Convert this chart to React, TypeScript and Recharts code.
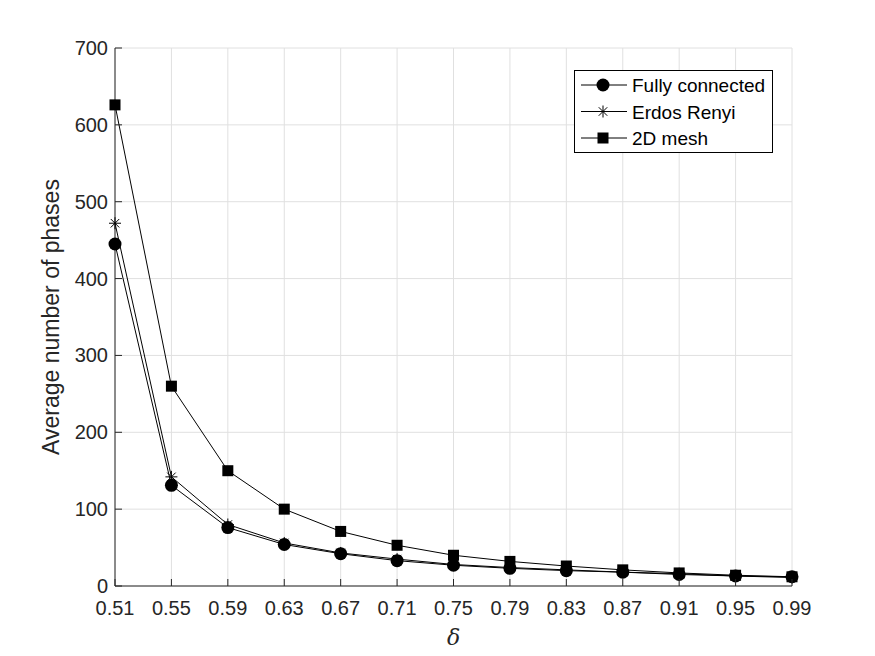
import React from 'react';
import { LineChart, Line, XAxis, YAxis, CartesianGrid } from 'recharts';

const deltas = [0.51, 0.55, 0.59, 0.63, 0.67, 0.71, 0.75, 0.79, 0.83, 0.87, 0.91, 0.95, 0.99];
const fullyConnected = [445, 131, 76, 54, 42, 33, 27, 23, 20, 18, 15, 13, 12];
const erdosRenyi = [472, 142, 80, 56, 43, 35, 28, 24, 21, 18, 16, 13, 11];
const mesh2d = [626, 260, 150, 100, 71, 53, 40, 32, 26, 21, 17, 14, 12];
const yTicks = [0, 100, 200, 300, 400, 500, 600, 700];

const data = deltas.map((d, i) => ({
  delta: d,
  fc: fullyConnected[i],
  er: erdosRenyi[i],
  mesh: mesh2d[i],
}));

const FONT = 'Liberation Sans, Arial, sans-serif';
const AXIS = '#262626';

function CircleDot(props: any) {
  const { cx, cy } = props;
  if (cx == null || cy == null) return null;
  return <circle cx={cx} cy={cy} r={6.5} fill="#000" />;
}

function StarDot(props: any) {
  const { cx, cy } = props;
  if (cx == null || cy == null) return null;
  const r = 6;
  const d = r * 0.7071;
  return (
    <g stroke="#000" strokeWidth={1}>
      <line x1={cx - r} y1={cy} x2={cx + r} y2={cy} />
      <line x1={cx} y1={cy - r} x2={cx} y2={cy + r} />
      <line x1={cx - d} y1={cy - d} x2={cx + d} y2={cy + d} />
      <line x1={cx - d} y1={cy + d} x2={cx + d} y2={cy - d} />
    </g>
  );
}

function SquareDot(props: any) {
  const { cx, cy } = props;
  if (cx == null || cy == null) return null;
  return <rect x={cx - 5.5} y={cy - 5.5} width={11} height={11} fill="#000" />;
}

// inward tick marks, MATLAB style
function XTick(props: any) {
  const { x, y, payload } = props;
  return (
    <g>
      <line x1={x} y1={y} x2={x} y2={y - 7} stroke={AXIS} />
      <text x={x} y={y + 29} textAnchor="middle" fontSize={20} fontFamily={FONT} fill={AXIS}>
        {Number(payload.value).toFixed(2)}
      </text>
    </g>
  );
}

function YTick(props: any) {
  const { x, y, payload } = props;
  return (
    <g>
      <line x1={x} y1={y} x2={x + 7} y2={y} stroke={AXIS} />
      <text x={x - 7} y={y + 7} textAnchor="end" fontSize={20} fontFamily={FONT} fill={AXIS}>
        {payload.value}
      </text>
    </g>
  );
}

const legendItems = [
  { name: 'Fully connected', Dot: CircleDot },
  { name: 'Erdos Renyi', Dot: StarDot },
  { name: '2D mesh', Dot: SquareDot },
];

function LegendBox() {
  return (
    <svg width={199} height={83} style={{ display: 'block' }}>
      <rect x={0.5} y={0.5} width={198} height={82} fill="#fff" stroke="#000" strokeWidth={1} />
      {legendItems.map((it, i) => {
        const y = 15 + i * 26.5;
        return (
          <g key={it.name}>
            <line x1={7} y1={y} x2={53} y2={y} stroke="#000" strokeWidth={1} />
            <it.Dot cx={29} cy={y} />
            <text x={58} y={y + 7} fontSize={19} fontFamily={FONT} fill="#000">
              {it.name}
            </text>
          </g>
        );
      })}
    </svg>
  );
}

export default function App() {
  return (
    <div style={{ position: 'absolute', left: 0, top: 0, background: '#fff', width: 875, height: 656 }}>
      <LineChart
        width={875}
        height={656}
        data={data}
        margin={{ top: 48, right: 83, left: 55, bottom: 30 }}
      >
        <CartesianGrid stroke="#e0e0e0" strokeWidth={1} />
        <XAxis
          dataKey="delta"
          type="number"
          domain={[0.51, 0.99]}
          ticks={deltas}
          stroke={AXIS}
          tick={<XTick />}
          tickLine={false}
          tickSize={0}
          tickMargin={0}
          height={40}
          label={{ value: 'δ', position: 'insideBottom', offset: -19, style: { fontFamily: 'DejaVu Serif, serif', fontStyle: 'italic', fontSize: 22, fill: AXIS } }}
        />
        <XAxis
          xAxisId="top"
          dataKey="delta"
          type="number"
          orientation="top"
          domain={[0.51, 0.99]}
          ticks={deltas}
          tick={false}
          tickLine={false}
          stroke={AXIS}
          height={0}
        />
        <YAxis
          type="number"
          domain={[0, 700]}
          ticks={yTicks}
          stroke={AXIS}
          tick={<YTick />}
          tickLine={false}
          tickSize={0}
          tickMargin={0}
          width={60}
          label={{ value: 'Average number of phases', angle: -90, position: 'insideLeft', offset: -4, style: { textAnchor: 'middle', fontSize: 23, fontFamily: FONT, fill: AXIS } }}
        />
        <YAxis
          yAxisId="right"
          orientation="right"
          domain={[0, 700]}
          ticks={yTicks}
          tick={false}
          tickLine={false}
          stroke={AXIS}
          width={0}
        />
        <Line dataKey="fc" stroke="#000" strokeWidth={1} dot={<CircleDot />} isAnimationActive={false} />
        <Line dataKey="er" stroke="#000" strokeWidth={1} dot={<StarDot />} isAnimationActive={false} />
        <Line dataKey="mesh" stroke="#000" strokeWidth={1} dot={<SquareDot />} isAnimationActive={false} />
      </LineChart>
      <div style={{ position: 'absolute', left: 574, top: 70 }}>
        <LegendBox />
      </div>
    </div>
  );
}
